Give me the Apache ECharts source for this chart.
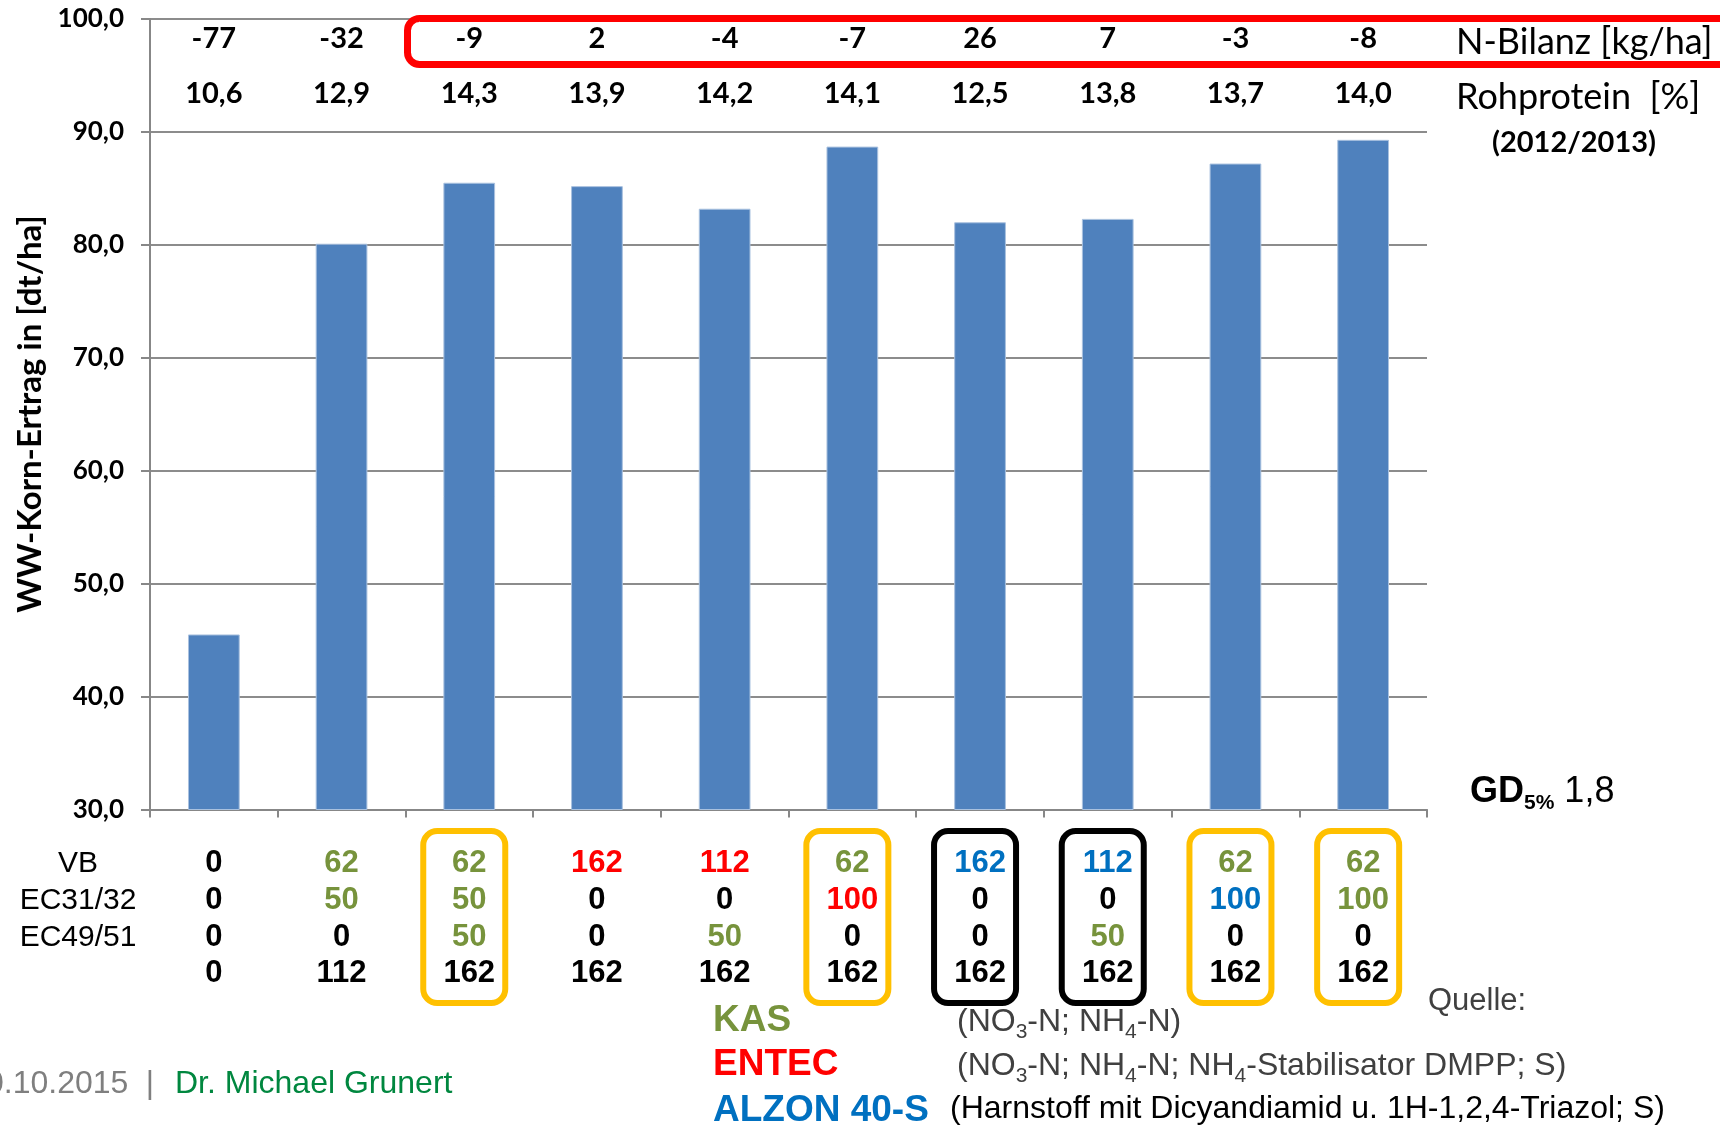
<!DOCTYPE html>
<html><head><meta charset="utf-8">
<script src="https://cdn.jsdelivr.net/npm/echarts@6/dist/echarts.min.js"></script>
<style>html,body{margin:0;padding:0;background:#fff}#c{width:1720px;height:1127px}</style>
</head><body><div id="c"></div>
<script>
// ---- data ----
const categories = ['1','2','3','4','5','6','7','8','9','10'];
const yieldValues = [45.5, 80.1, 85.5, 85.2, 83.2, 88.7, 82.0, 82.3, 87.2, 89.3];
const nBilanz = ['-77','-32','-9','2','-4','-7','26','7','-3','-8'];
const rohprotein = ['10,6','12,9','14,3','13,9','14,2','14,1','12,5','13,8','13,7','14,0'];
const rowLabels = ['VB','EC31/32','EC49/51'];
const vbN = [0,62,62,162,112,62,162,112,62,62];
const vbProduct = ['','KAS','KAS','ENTEC','ENTEC','KAS','ALZON','ALZON','KAS','KAS'];
const ec31N = [0,50,50,0,0,100,0,0,100,100];
const ec31Product = ['','KAS','KAS','','','ENTEC','','','ALZON','KAS'];
const ec49N = [0,0,50,0,50,0,0,50,0,0];
const ec49Product = ['','','KAS','','KAS','','','KAS','',''];
const totalN = [0,112,162,162,162,162,162,162,162,162];
const yMin = 30, yMax = 100, yStep = 10;
const yellowBoxes = [2,5,8,9];
const blackBoxes = [6,7];
const legendNames = ['KAS','ENTEC','ALZON 40-S'];
const legendDesc = ['(NO{s|3}-N; NH{s|4}-N)','(NO{s|3}-N; NH{s|4}-N; NH{s|4}-Stabilisator DMPP; S)','(Harnstoff mit Dicyandiamid u. 1H-1,2,4-Triazol; S)'];

// ---- styles ----
const C_KAS = '#77933C', C_ENTEC = '#FF0000', C_ALZON = '#0070C0';
const calib = 'Lato, "Open Sans", sans-serif';
const arial = '"Liberation Sans", Arial, sans-serif';
const cellStyle = c => ({color: c, fontSize: 31, fontWeight: 'bold', fontFamily: arial, lineHeight: 36.7});

const chart = echarts.init(document.getElementById('c'));
const option = {
  animation: false,
  backgroundColor: '#fff',
  grid: {left: 150, right: 293, top: 19, bottom: 317.5, containLabel: false},
  xAxis: [{
    type: 'category', data: categories, position: 'bottom',
    axisLine: {lineStyle: {color: '#878787', width: 2}},
    axisTick: {show: true, length: 8, lineStyle: {color: '#878787', width: 2}},
    axisLabel: {
      interval: 0, margin: 36,
      formatter: (v, i) => {
        const tk = (n, p) => '{' + (n === 0 ? 'k' : (p || 'k')) + '|' + n + '}';
        return [tk(vbN[i], vbProduct[i]), tk(ec31N[i], ec31Product[i]), tk(ec49N[i], ec49Product[i]), tk(totalN[i], '')].join('\n');
      },
      rich: {k: cellStyle('#000'), KAS: cellStyle(C_KAS), ENTEC: cellStyle(C_ENTEC), ALZON: cellStyle(C_ALZON)}
    }
  }, {
    type: 'category', data: categories, position: 'top',
    axisLine: {show: false}, axisTick: {show: false},
    axisLabel: {
      inside: true, interval: 0, margin: 2,
      formatter: (v, i) => '{a|' + nBilanz[i] + '}\n{b|' + rohprotein[i] + '}',
      rich: {
        a: {fontSize: 29, fontWeight: 'bold', fontFamily: calib, color: '#000', lineHeight: 35},
        b: {fontSize: 29, fontWeight: 'bold', fontFamily: calib, color: '#000', lineHeight: 76}
      }
    }
  }],
  yAxis: {
    type: 'value', min: yMin, max: yMax, interval: yStep,
    axisLine: {show: true, lineStyle: {color: '#878787', width: 2}},
    axisTick: {show: true, length: 9, lineStyle: {color: '#878787', width: 2}},
    splitLine: {lineStyle: {color: '#8c8c8c', width: 2}},
    axisLabel: {margin: 26, formatter: v => v.toFixed(1).replace('.', ','), fontSize: 26, fontWeight: 'bold', fontFamily: calib, color: '#000'}
  },
  series: [{
    type: 'bar', data: yieldValues, barWidth: '40.5%', xAxisIndex: 0,
    itemStyle: {color: '#4F81BD', borderColor: '#a9c1df', borderWidth: 1}
  }]
};
chart.setOption(option);

const px = i => chart.convertToPixel({xAxisIndex: 0}, categories[i]);
const g = [];
// red frame around N-Bilanz row
g.push({type: 'rect', z: 20, shape: {x: 407.5, y: 18.5, width: 1400, height: 46, r: 12}, style: {fill: 'none', stroke: '#FF0000', lineWidth: 7}});
// right-hand labels
g.push({type: 'text', x: 1456, y: 42, style: {text: 'N-Bilanz [kg/ha]', fontSize: 36, fontFamily: calib, fill: '#000', align: 'left', verticalAlign: 'middle'}});
g.push({type: 'text', x: 1456, y: 97, style: {text: 'Rohprotein  [%]', fontSize: 36, fontFamily: calib, fill: '#000', align: 'left', verticalAlign: 'middle'}});
g.push({type: 'text', x: 1574, y: 143, style: {text: '(2012/2013)', fontSize: 29, fontWeight: 'bold', fontFamily: calib, fill: '#000', align: 'center', verticalAlign: 'middle'}});
// y axis title
g.push({type: 'text', x: 30, y: 414, rotation: Math.PI / 2, style: {text: 'WW-Korn-Ertrag in [dt/ha]', fontSize: 33, fontWeight: 'bold', fontFamily: calib, fill: '#000', align: 'center', verticalAlign: 'middle'}});
// GD label
g.push({type: 'text', x: 1470, y: 792, style: {text: '{b|GD}{s|5%}{n| 1,8}', align: 'left', verticalAlign: 'middle',
  rich: {b: {fontSize: 36, fontWeight: 'bold', fontFamily: arial, fill: '#000', lineHeight: 44},
         s: {fontSize: 21, fontWeight: 'bold', fontFamily: arial, fill: '#000', lineHeight: 21, verticalAlign: 'bottom'},
         n: {fontSize: 36, fontFamily: arial, fill: '#000', lineHeight: 44}}}});
// row labels
rowLabels.forEach((t, r) => g.push({type: 'text', x: 78, y: 864 + r * 36.7, style: {text: t, fontSize: 30, fontFamily: arial, fill: '#000', align: 'center', verticalAlign: 'middle'}}));
// highlight boxes
const boxW = 82, boxTop = 831, boxH = 172;
yellowBoxes.forEach(i => g.push({type: 'rect', z: 20, shape: {x: px(i) - 5 - boxW / 2, y: boxTop, width: boxW, height: boxH, r: 14}, style: {fill: 'none', stroke: '#FFC000', lineWidth: 6}}));
blackBoxes.forEach(i => g.push({type: 'rect', z: 20, shape: {x: px(i) - 5 - boxW / 2, y: boxTop, width: boxW, height: boxH, r: 14}, style: {fill: 'none', stroke: '#000', lineWidth: 6}}));
// legend of products
const legColors = [C_KAS, C_ENTEC, C_ALZON];
const legY = [1021, 1065, 1111];
legendNames.forEach((t, k) => g.push({type: 'text', x: 713, y: legY[k], style: {text: t, fontSize: 37, fontWeight: 'bold', fontFamily: arial, fill: legColors[k], align: 'left', verticalAlign: 'middle'}}));
const descColors = ['#404040', '#404040', '#000'];
const descX = [957, 957, 950];
const descY = [1022, 1066, 1109];
legendDesc.forEach((t, k) => g.push({type: 'text', x: descX[k], y: descY[k], style: {text: t, align: 'left', verticalAlign: 'middle',
  rich: {s: {fontSize: 21, fontFamily: arial, fill: descColors[k], lineHeight: 21, verticalAlign: 'bottom'}},
  fontSize: 32, fontFamily: arial, fill: descColors[k], lineHeight: 42}}));
g.push({type: 'text', x: 1428, y: 1001, style: {text: 'Quelle:', fontSize: 31, fontFamily: arial, fill: '#404040', align: 'left', verticalAlign: 'middle'}});
// footer
g.push({type: 'text', x: -14, y: 1084, style: {text: '0.10.2015', fontSize: 32, fontFamily: arial, fill: '#7f7f7f', align: 'left', verticalAlign: 'middle'}});
g.push({type: 'text', x: 150, y: 1084, style: {text: '|', fontSize: 32, fontFamily: arial, fill: '#7f7f7f', align: 'center', verticalAlign: 'middle'}});
g.push({type: 'text', x: 175, y: 1084, style: {text: 'Dr. Michael Grunert', fontSize: 32, fontFamily: arial, fill: '#00873F', align: 'left', verticalAlign: 'middle'}});
chart.setOption({graphic: g});
</script></body></html>
